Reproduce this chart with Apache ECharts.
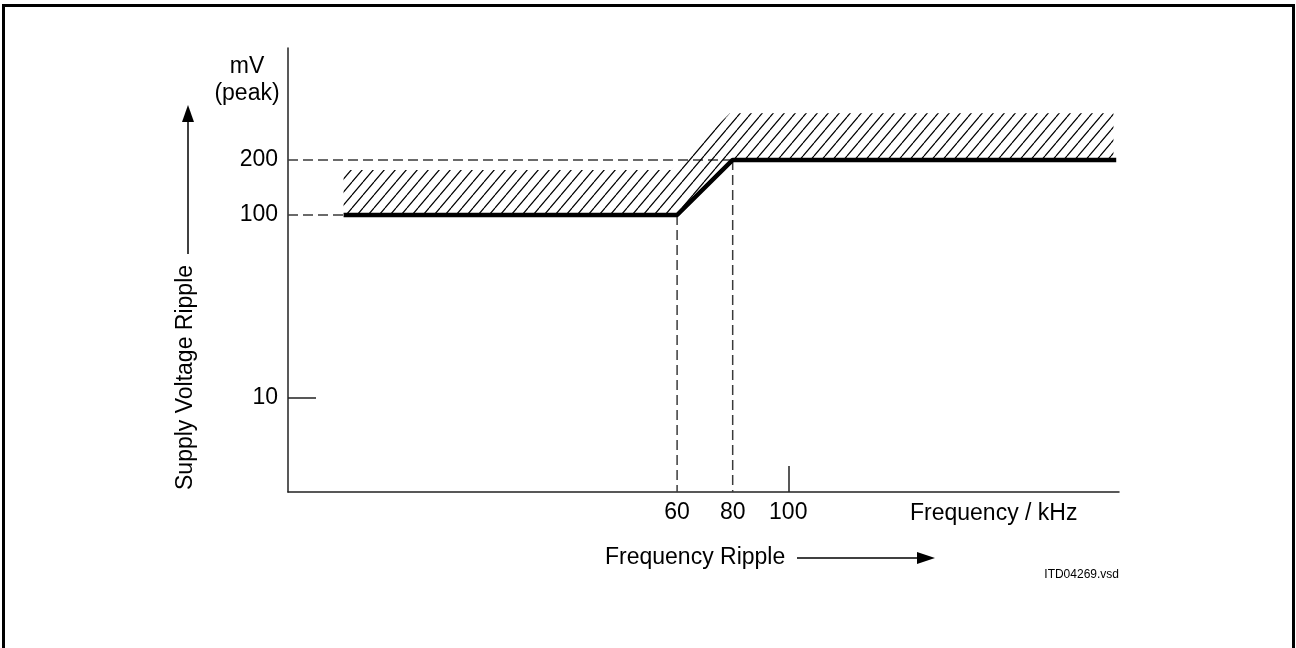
<!DOCTYPE html>
<html>
<head>
<meta charset="utf-8">
<script src="https://cdn.jsdelivr.net/npm/echarts@6/dist/echarts.min.js"></script>
<style>
  html, body { margin: 0; padding: 0; background: #fff; }
  #chart { width: 1296px; height: 648px; }
</style>
</head>
<body>
<div id="chart"></div>
<script>
// axis ranges (x in kHz, y in mV peak, log)
const xRange = [-80, 219]
const yRange = [3.064, 817.6]
const xTickLabels = [60, 80, 100]
const yTickLabels = [10, 100, 200]

// thick ripple limit line
const limitLine = [[-60, 100], [60, 100], [80, 200], [218, 200]]
// hatched band above the limit
const bandUpper = [[-60, 176], [58, 176], [79, 360], [217, 360]]
const bandLower = [[-60, 100], [60, 100], [80, 200], [217, 200]]
// dashed guide lines
const guide200 = [[-80, 200], [80, 200]]
const guide100 = [[-80, 100], [-60, 100]]
const guide60 = [[60, 100], [60, 3.064]]
const guide80 = [[80, 200], [80, 3.064]]

const font = '"Liberation Sans", Arial, sans-serif'
const fs = 23

// diagonal hatch tile
function hatchTile() {
  const c = document.createElement('canvas')
  c.width = 11
  c.height = 13
  const ctx = c.getContext('2d')
  ctx.strokeStyle = '#000'
  ctx.lineWidth = 1.2
  ctx.beginPath()
  ctx.moveTo(-11, 13); ctx.lineTo(0, 0)
  ctx.moveTo(0, 13); ctx.lineTo(11, 0)
  ctx.moveTo(11, 13); ctx.lineTo(22, 0)
  ctx.stroke()
  return c
}
const hatch = { image: hatchTile(), repeat: 'repeat' }

function dashed(data) {
  return {
    type: 'line',
    data: data,
    symbol: 'none',
    silent: true,
    lineStyle: { color: '#3a3a3a', width: 1.5, type: [10, 5] },
    z: 1
  }
}

const chart = echarts.init(document.getElementById('chart'))

chart.setOption({
  animation: false,
  backgroundColor: '#fff',
  grid: { left: 288, right: 177, top: 48, bottom: 156 },
  xAxis: {
    type: 'value',
    min: xRange[0],
    max: xRange[1],
    axisLine: { show: true, onZero: false, lineStyle: { color: '#222', width: 1.5 } },
    axisTick: { show: true, inside: true, length: 26, customValues: [100], lineStyle: { color: '#222', width: 1.5 } },
    axisLabel: { customValues: xTickLabels, margin: 9, fontSize: fs, color: '#000', fontFamily: font },
    splitLine: { show: false }
  },
  yAxis: {
    type: 'log',
    min: yRange[0],
    max: yRange[1],
    axisLine: { show: true, onZero: false, lineStyle: { color: '#222', width: 1.5 } },
    axisTick: { show: true, inside: true, length: 28, customValues: [10], lineStyle: { color: '#222', width: 1.5 } },
    axisLabel: { customValues: yTickLabels, margin: 10, fontSize: fs, color: '#000', fontFamily: font },
    splitLine: { show: false }
  },
  graphic: [
    // outer frame
    { type: 'rect', shape: { x: 3.5, y: 5.5, width: 1290, height: 700 }, style: { fill: null, stroke: '#000', lineWidth: 3 } },
    { type: 'text', x: 247, y: 67, style: { text: 'mV', font: fs + 'px ' + font, fill: '#000', align: 'center', verticalAlign: 'middle' } },
    { type: 'text', x: 247, y: 94, style: { text: '(peak)', font: fs + 'px ' + font, fill: '#000', align: 'center', verticalAlign: 'middle' } },
    // y axis title with arrow
    { type: 'text', x: 186, y: 490, rotation: Math.PI / 2, style: { text: 'Supply Voltage Ripple', font: fs + 'px ' + font, fill: '#000', verticalAlign: 'middle', align: 'left' } },
    { type: 'line', shape: { x1: 188, y1: 254, x2: 188, y2: 120 }, style: { stroke: '#000', lineWidth: 1.5 } },
    { type: 'polygon', shape: { points: [[188, 105], [182, 122], [194, 122]] }, style: { fill: '#000' } },
    // x axis titles
    { type: 'text', x: 910, y: 514, style: { text: 'Frequency / kHz', font: fs + 'px ' + font, fill: '#000', verticalAlign: 'middle' } },
    { type: 'text', x: 605, y: 558, style: { text: 'Frequency Ripple', font: fs + 'px ' + font, fill: '#000', verticalAlign: 'middle' } },
    { type: 'line', shape: { x1: 797, y1: 558, x2: 920, y2: 558 }, style: { stroke: '#000', lineWidth: 1.5 } },
    { type: 'polygon', shape: { points: [[935, 558], [917, 552], [917, 564]] }, style: { fill: '#000' } },
    { type: 'text', x: 1119, y: 575, style: { text: 'ITD04269.vsd', font: '12px ' + font, fill: '#000', align: 'right', verticalAlign: 'middle' } }
  ],
  series: [
    {
      type: 'custom',
      silent: true,
      z: 2,
      data: [0],
      renderItem: function (params, api) {
        const pts = bandUpper.map(p => api.coord(p))
          .concat(bandLower.slice().reverse().map(p => api.coord(p)))
        return { type: 'polygon', shape: { points: pts }, style: { fill: hatch, stroke: null } }
      }
    },
    dashed(guide200),
    dashed(guide100),
    dashed(guide60),
    dashed(guide80),
    {
      type: 'line',
      data: limitLine,
      symbol: 'none',
      silent: true,
      z: 3,
      lineStyle: { color: '#000', width: 4.5 }
    }
  ]
})
</script>
</body>
</html>
